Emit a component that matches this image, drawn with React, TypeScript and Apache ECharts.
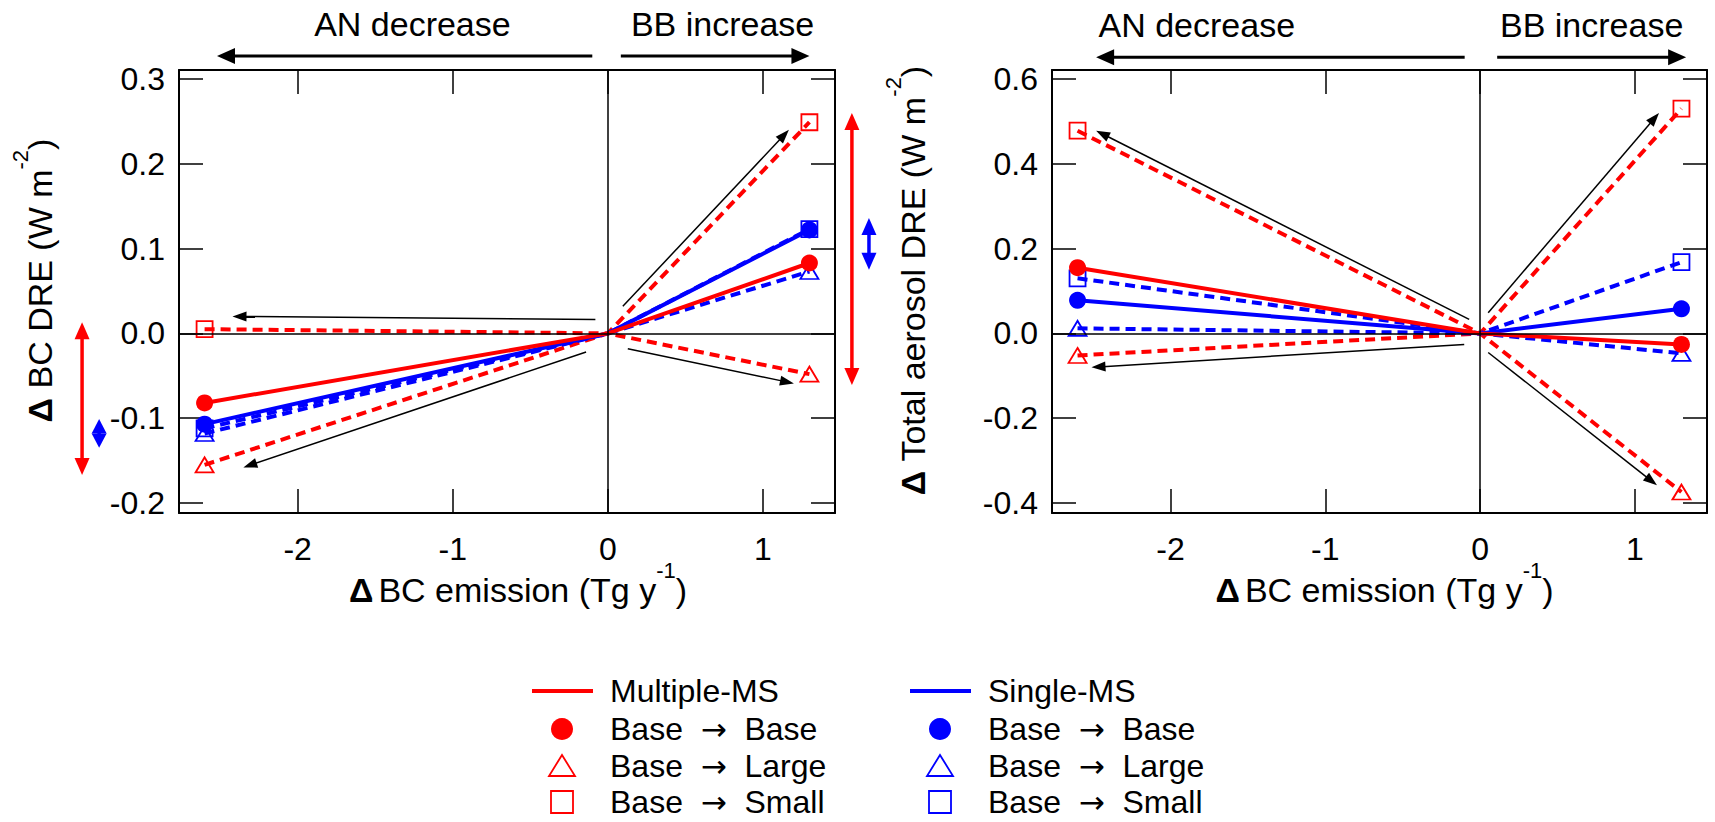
import React, { useEffect, useRef } from "react";
import * as echarts from "echarts";

const FONT = '"Liberation Sans", Arial, Helvetica, sans-serif';
const ARROW_FONT = '"DejaVu Sans", sans-serif';
const RED = "#ff0000";
const BLUE = "#0000ff";

// x positions of the three points of every line (AN decrease, origin, BB increase)
const xPoints = [-2.6, 0, 1.3];

// Left panel: Δ BC DRE (W m-2)
const bcMultiBase = [-0.082, 0, 0.083];
const bcMultiLarge = [-0.155, 0, -0.048];
const bcMultiSmall = [0.005, 0, 0.249];
const bcSingleBase = [-0.107, 0, 0.122];
const bcSingleLarge = [-0.118, 0, 0.073];
const bcSingleSmall = [-0.112, 0, 0.123];

// Right panel: Δ Total aerosol DRE (W m-2)
const totMultiBase = [0.155, 0, -0.026];
const totMultiLarge = [-0.052, 0, -0.374];
const totMultiSmall = [0.478, 0, 0.53];
const totSingleBase = [0.078, 0, 0.058];
const totSingleLarge = [0.012, 0, -0.047];
const totSingleSmall = [0.13, 0, 0.168];

// tick values
const xTicks = [-2, -1, 0, 1];
const bcTicks = [-0.2, -0.1, 0, 0.1, 0.2, 0.3];
const totTicks = [-0.4, -0.2, 0, 0.2, 0.4, 0.6];

// axis ranges
const xRange = [-2.765, 1.465];
const bcRange = [-0.2118, 0.3106];
const totRange = [-0.4235, 0.6212];

// annotation arrows inside panels [x1, y1, x2(head), y2(head)] in data units
const bcInnerArrows = [
  [-0.08, 0.0165, -2.42, 0.02],
  [-0.14, -0.022, -2.35, -0.158],
  [0.097, 0.032, 1.168, 0.24],
  [0.129, -0.018, 1.2, -0.059],
];
const totInnerArrows = [
  [-0.071, 0.033, -2.48, 0.478],
  [-0.103, -0.026, -2.51, -0.08],
  [0.052, 0.049, 1.155, 0.52],
  [0.052, -0.045, 1.142, -0.358],
];

// top arrows [xStart, xHead] and their y in data units
const bcTopArrows = [
  [-0.1, -2.52],
  [0.084, 1.3],
];
const bcTopArrowY = 0.327;
const totTopArrows = [
  [-0.1, -2.48],
  [0.11, 1.33],
];
const totTopArrowY = 0.651;

const topTexts = ["AN decrease", "BB increase"];
const bcTopTextX = [-1.26, 0.74];
const bcTopTextY = 0.365;
const totTopTextX = [-1.83, 0.72];
const totTopTextY = 0.727;

// range (double-headed) arrows beside the left panel: x, yTop, yBottom
const bcRangeArrows = [
  { x: -3.39, y1: 0.013, y2: -0.167, color: RED },
  { x: -3.28, y1: -0.101, y2: -0.135, color: BLUE },
  { x: 1.574, y1: 0.26, y2: -0.061, color: RED },
  { x: 1.684, y1: 0.136, y2: 0.075, color: BLUE },
];

const legendLabels = [
  ["Base", "Base"],
  ["Base", "Large"],
  ["Base", "Small"],
];
const legendGroups = ["Multiple-MS", "Single-MS"];

function makeSeries(g: number, ys: number[], color: string, kind: string) {
  const symbol = kind === "base" ? "circle" : kind === "large" ? "triangle" : "rect";
  const size: any = kind === "base" ? 17 : kind === "large" ? [18, 15] : 16;
  return {
    type: "line",
    xAxisIndex: g * 2,
    yAxisIndex: g * 2,
    data: xPoints.map((x, i) =>
      i === 1 ? { value: [x, ys[i]], symbol: "none" } : [x, ys[i]]
    ),
    symbol,
    symbolSize: size,
    showSymbol: true,
    lineStyle: { color, width: 4, type: kind === "base" ? "solid" : [10, 6] },
    itemStyle:
      kind === "base"
        ? { color }
        : { color: "rgba(0,0,0,0)", borderColor: color, borderWidth: 1.8 },
    z: kind === "base" ? 4 : 3,
    silent: true,
    clip: false,
    animation: false,
  };
}

function zeroSeries(g: number) {
  return {
    type: "line",
    xAxisIndex: g * 2,
    yAxisIndex: g * 2,
    data: [],
    z: 1,
    silent: true,
    markLine: {
      silent: true,
      symbol: ["none", "none"],
      label: { show: false },
      lineStyle: { color: "#000", width: 1.5, type: "solid" },
      emphasis: { disabled: true },
      data: [{ xAxis: 0 }, { yAxis: 0 }],
    },
  };
}

const richName = {
  d: { fontSize: 34, fontWeight: "bold", fontFamily: FONT, lineHeight: 62, color: "#000" },
  g: { fontSize: 18, fontFamily: FONT, lineHeight: 62, color: "#000" },
  n: { fontSize: 34, fontFamily: FONT, lineHeight: 62, color: "#000" },
  s: { fontSize: 22, fontFamily: FONT, lineHeight: 22, verticalAlign: "top", color: "#000" },
};

function xAxes(g: number, padLeft: number) {
  const common = {
    type: "value",
    gridIndex: g,
    min: xRange[0],
    max: xRange[1],
    splitLine: { show: false },
    axisLine: { show: true, onZero: false, lineStyle: { color: "#000", width: 2 } },
    axisTick: {
      show: true,
      inside: true,
      length: 24,
      customValues: xTicks,
      lineStyle: { color: "#000", width: 1.5 },
    },
  };
  return [
    {
      ...common,
      position: "bottom",
      axisLabel: {
        show: true,
        customValues: xTicks,
        fontSize: 32,
        fontFamily: FONT,
        color: "#000",
        margin: 20,
        formatter: (v: number) => String(v),
      },
      name: "{d|\u0394}{g| }{n|BC emission (Tg y}{s|-1}{n|)}",
      nameLocation: "middle",
      nameGap: 46,
      nameMoveOverlap: false,
      nameTextStyle: { rich: richName, padding: [0, 0, 0, padLeft] },
    },
    { ...common, position: "top", axisLabel: { show: false } },
  ];
}

function yAxes(g: number, range: number[], ticks: number[], title: string) {
  const common = {
    type: "value",
    gridIndex: g,
    min: range[0],
    max: range[1],
    splitLine: { show: false },
    axisLine: { show: true, onZero: false, lineStyle: { color: "#000", width: 2 } },
    axisTick: {
      show: true,
      inside: true,
      length: 24,
      customValues: ticks,
      lineStyle: { color: "#000", width: 1.5 },
    },
  };
  return [
    {
      ...common,
      position: "left",
      axisLabel: {
        show: true,
        customValues: ticks,
        fontSize: 32,
        fontFamily: FONT,
        color: "#000",
        margin: 14,
        formatter: (v: number) => v.toFixed(1),
      },
      name: title,
      nameLocation: "middle",
      nameRotate: 90,
      nameGap: 108,
      nameTextStyle: { rich: richName, padding: [0, 0, 0, 22] },
    },
    { ...common, position: "right", axisLabel: { show: false } },
  ];
}

function arrowEls(
  p1: number[],
  p2: number[],
  color: string,
  width: number,
  headLen: number,
  headW: number,
  both = false
) {
  const dx = p2[0] - p1[0];
  const dy = p2[1] - p1[1];
  const len = Math.hypot(dx, dy) || 1;
  const ux = dx / len;
  const uy = dy / len;
  const nx = -uy;
  const ny = ux;
  const els: any[] = [];
  const head = (tip: number[], sx: number, sy: number) => {
    const bx = tip[0] - sx * headLen;
    const by = tip[1] - sy * headLen;
    return {
      type: "polygon",
      silent: true,
      z: 50,
      shape: {
        points: [
          [tip[0], tip[1]],
          [bx + (nx * headW) / 2, by + (ny * headW) / 2],
          [bx - (nx * headW) / 2, by - (ny * headW) / 2],
        ],
      },
      style: { fill: color, stroke: "none" },
    };
  };
  const start = both ? [p1[0] + ux * headLen * 0.8, p1[1] + uy * headLen * 0.8] : p1;
  const end = [p2[0] - ux * headLen * 0.8, p2[1] - uy * headLen * 0.8];
  const segLen = Math.hypot(end[0] - start[0], end[1] - start[1]);
  const forward = (end[0] - start[0]) * ux + (end[1] - start[1]) * uy;
  if (forward > 0 && segLen > 0.5) {
    els.push({
      type: "line",
      silent: true,
      z: 49,
      shape: { x1: start[0], y1: start[1], x2: end[0], y2: end[1] },
      style: { stroke: color, lineWidth: width },
    });
  }
  els.push(head(p2, ux, uy));
  if (both) els.push(head(p1, -ux, -uy));
  return els;
}

export default function App() {
  const ref = useRef<HTMLDivElement>(null);

  useEffect(() => {
    if (!ref.current) return;
    const chart = echarts.init(ref.current, null, { renderer: "svg" });

    const option: any = {
      animation: false,
      backgroundColor: "#fff",
      textStyle: { fontFamily: FONT },
      grid: [
        { left: 179, right: 880, top: 70, bottom: 309, outerBoundsMode: "none", containLabel: false },
        { left: 1052, right: 8, top: 70, bottom: 309, outerBoundsMode: "none", containLabel: false },
      ],
      xAxis: [...xAxes(0, 22), ...xAxes(1, 10)],
      yAxis: [
        ...yAxes(0, bcRange, bcTicks, "{d|\u0394}{n| BC DRE (W m}{s|-2}{n|)}"),
        ...yAxes(1, totRange, totTicks, "{d|\u0394}{n| Total aerosol DRE (W m}{s|-2}{n|)}"),
      ],
      series: [
        zeroSeries(0),
        zeroSeries(1),
        makeSeries(0, bcMultiLarge, RED, "large"),
        makeSeries(0, bcMultiSmall, RED, "small"),
        makeSeries(0, bcSingleLarge, BLUE, "large"),
        makeSeries(0, bcSingleSmall, BLUE, "small"),
        makeSeries(0, bcSingleBase, BLUE, "base"),
        makeSeries(0, bcMultiBase, RED, "base"),
        makeSeries(1, totMultiLarge, RED, "large"),
        makeSeries(1, totMultiSmall, RED, "small"),
        makeSeries(1, totSingleLarge, BLUE, "large"),
        makeSeries(1, totSingleSmall, BLUE, "small"),
        makeSeries(1, totSingleBase, BLUE, "base"),
        makeSeries(1, totMultiBase, RED, "base"),
      ],
    };
    chart.setOption(option);

    const toPx = (g: number, x: number, y: number) =>
      chart.convertToPixel({ xAxisIndex: g * 2, yAxisIndex: g * 2 } as any, [x, y]) as number[];

    const graphics: any[] = [];

    // black arrows inside panels
    const inner = [bcInnerArrows, totInnerArrows];
    inner.forEach((list, g) => {
      list.forEach((a) => {
        graphics.push(...arrowEls(toPx(g, a[0], a[1]), toPx(g, a[2], a[3]), "#000", 1.5, 14, 10));
      });
    });

    // top arrows and texts
    const tops = [
      { arrows: bcTopArrows, ay: bcTopArrowY, tx: bcTopTextX, ty: bcTopTextY },
      { arrows: totTopArrows, ay: totTopArrowY, tx: totTopTextX, ty: totTopTextY },
    ];
    tops.forEach((t, g) => {
      t.arrows.forEach((a) => {
        graphics.push(...arrowEls(toPx(g, a[0], t.ay), toPx(g, a[1], t.ay), "#000", 3, 18, 16));
      });
      t.tx.forEach((x, i) => {
        const p = toPx(g, x, t.ty);
        graphics.push({
          type: "text",
          silent: true,
          x: p[0],
          y: p[1],
          style: {
            text: topTexts[i],
            fontSize: 34,
            fontFamily: FONT,
            fill: "#000",
            align: "center",
            verticalAlign: "middle",
          },
        });
      });
    });

    // range arrows beside left panel
    bcRangeArrows.forEach((r) => {
      const p1 = toPx(0, r.x, r.y1);
      const p2 = toPx(0, r.x, r.y2);
      const d = Math.abs(p2[1] - p1[1]);
      graphics.push(...arrowEls(p1, p2, r.color, 3.5, d < 40 ? d / 2 : 17, 15, true));
    });

    // legend
    const legendX = [532, 910];
    const rowY = [691, 729, 766, 802];
    const colors = [RED, BLUE];
    const legRich = {
      n: { fontSize: 32, fontFamily: FONT, color: "#000", lineHeight: 30 },
      a: { fontSize: 31, fontFamily: ARROW_FONT, color: "#000", lineHeight: 30 },
    };
    legendX.forEach((lx, c) => {
      const col = colors[c];
      graphics.push({
        type: "line",
        silent: true,
        shape: { x1: lx, y1: rowY[0], x2: lx + 61, y2: rowY[0] },
        style: { stroke: col, lineWidth: 4 },
      });
      const mx = lx + 30;
      graphics.push({
        type: "circle",
        silent: true,
        shape: { cx: mx, cy: rowY[1], r: 11 },
        style: { fill: col },
      });
      graphics.push({
        type: "polygon",
        silent: true,
        shape: {
          points: [
            [mx, rowY[2] - 11],
            [mx + 13, rowY[2] + 10],
            [mx - 13, rowY[2] + 10],
          ],
        },
        style: { fill: "none", stroke: col, lineWidth: 1.8 },
      });
      graphics.push({
        type: "rect",
        silent: true,
        shape: { x: mx - 11, y: rowY[3] - 11, width: 22, height: 22 },
        style: { fill: "none", stroke: col, lineWidth: 1.8 },
      });
      const texts = [
        `{n|${legendGroups[c]}}`,
        ...legendLabels.map((l) => `{n|${l[0]}  }{a|\u2192}{n|  ${l[1]}}`),
      ];
      texts.forEach((t, i) => {
        graphics.push({
          type: "text",
          silent: true,
          x: lx + 78,
          y: rowY[i],
          style: {
            text: t,
            rich: legRich,
            fill: "#000",
            align: "left",
            verticalAlign: "middle",
          },
        });
      });
    });

    chart.setOption({ graphic: graphics });

    return () => {
      chart.dispose();
    };
  }, []);

  return (
    <div
      ref={ref}
      style={{ position: "fixed", left: 0, top: 0, width: 1715, height: 822, background: "#fff" }}
    />
  );
}
